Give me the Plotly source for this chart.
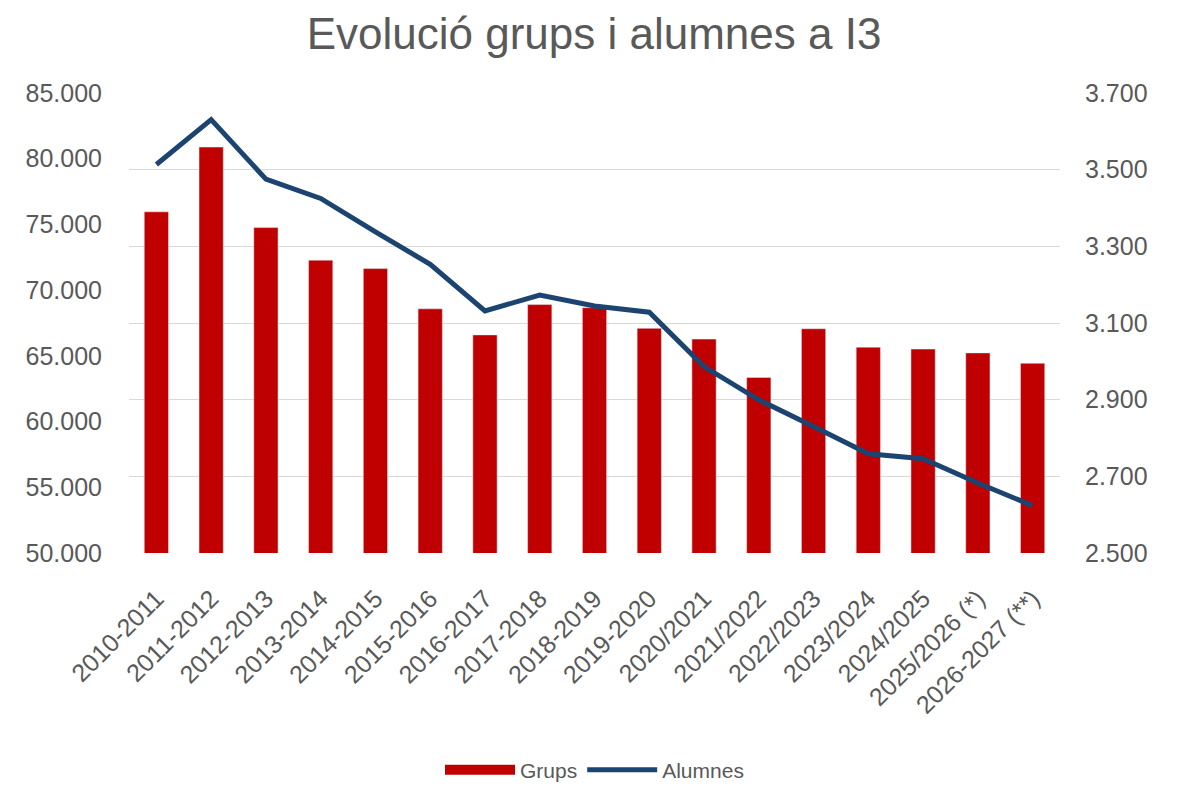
import plotly.graph_objects as go

cursos = ["2010-2011", "2011-2012", "2012-2013", "2013-2014", "2014-2015",
          "2015-2016", "2016-2017", "2017-2018", "2018-2019", "2019-2020",
          "2020/2021", "2021/2022", "2022/2023", "2023/2024", "2024/2025",
          "2025/2026 (*)", "2026-2027 (**)"]
grups = [3390, 3559, 3349, 3264, 3242, 3137, 3069, 3148, 3140, 3086,
         3058, 2958, 3085, 3037, 3032, 3022, 2995]
alumnes = [79561, 82979, 78444, 76978, 74441, 71964, 68417, 69632, 68797, 68318,
           64186, 61656, 59628, 57554, 57174, 55328, 53604]

grey = "#595959"
red = "#C00000"
blue = "#1B4570"
font = "Liberation Sans, Arial, sans-serif"

W, H = 1172, 778  # page body adds an 8px offset

fig = go.Figure()
fig.add_trace(go.Bar(x=cursos, y=grups, name="Grups", marker_color=red,
                     yaxis="y", showlegend=False))
# legend entry for the bars (wide swatch as in the original)
fig.add_trace(go.Scatter(x=[None], y=[None], name="Grups", mode="lines",
                         line=dict(color=red, width=10), yaxis="y",
                         hoverinfo="skip"))
fig.add_trace(go.Scatter(x=cursos, y=alumnes, name="Alumnes", mode="lines",
                         line=dict(color=blue, width=5), yaxis="y2"))

fig.update_layout(
    width=W, height=H,
    paper_bgcolor="white", plot_bgcolor="white",
    separators=",.",
    margin=dict(l=121, r=120, t=85, b=233, autoexpand=False),
    bargap=0.557,
    font=dict(family=font, color=grey, size=20),
    title=dict(text="Evolució grups i alumnes a I3", x=0.5, xanchor="center",
               yref="container", y=1 - 26 / H, yanchor="middle",
               font=dict(size=44, color=grey, family=font)),
    xaxis=dict(tickangle=-45, showgrid=False, showline=False, ticks="",
               ticklabelstandoff=25, automargin=False,
               tickfont=dict(size=25, color=grey)),
    yaxis=dict(side="right", range=[2500, 3700], tick0=2500, dtick=200,
               tickformat=",d", automargin=False,
               showgrid=True, gridcolor="#D9D9D9", gridwidth=1.4,
               zeroline=False, ticks="", ticklabelstandoff=24,
               tickfont=dict(size=25, color=grey)),
    yaxis2=dict(side="left", overlaying="y", range=[50000, 85000], tick0=50000,
                dtick=5000, tickformat=",d", showgrid=False, zeroline=False,
                ticks="", ticklabelstandoff=26, automargin=False,
                tickfont=dict(size=25, color=grey)),
    legend=dict(orientation="h", x=0.5, xanchor="center", yref="container",
                y=1 - 762 / H, yanchor="middle", itemwidth=70,
                font=dict(size=21, color=grey), traceorder="normal"),
    showlegend=True,
)

fig.write_html("out.html")
